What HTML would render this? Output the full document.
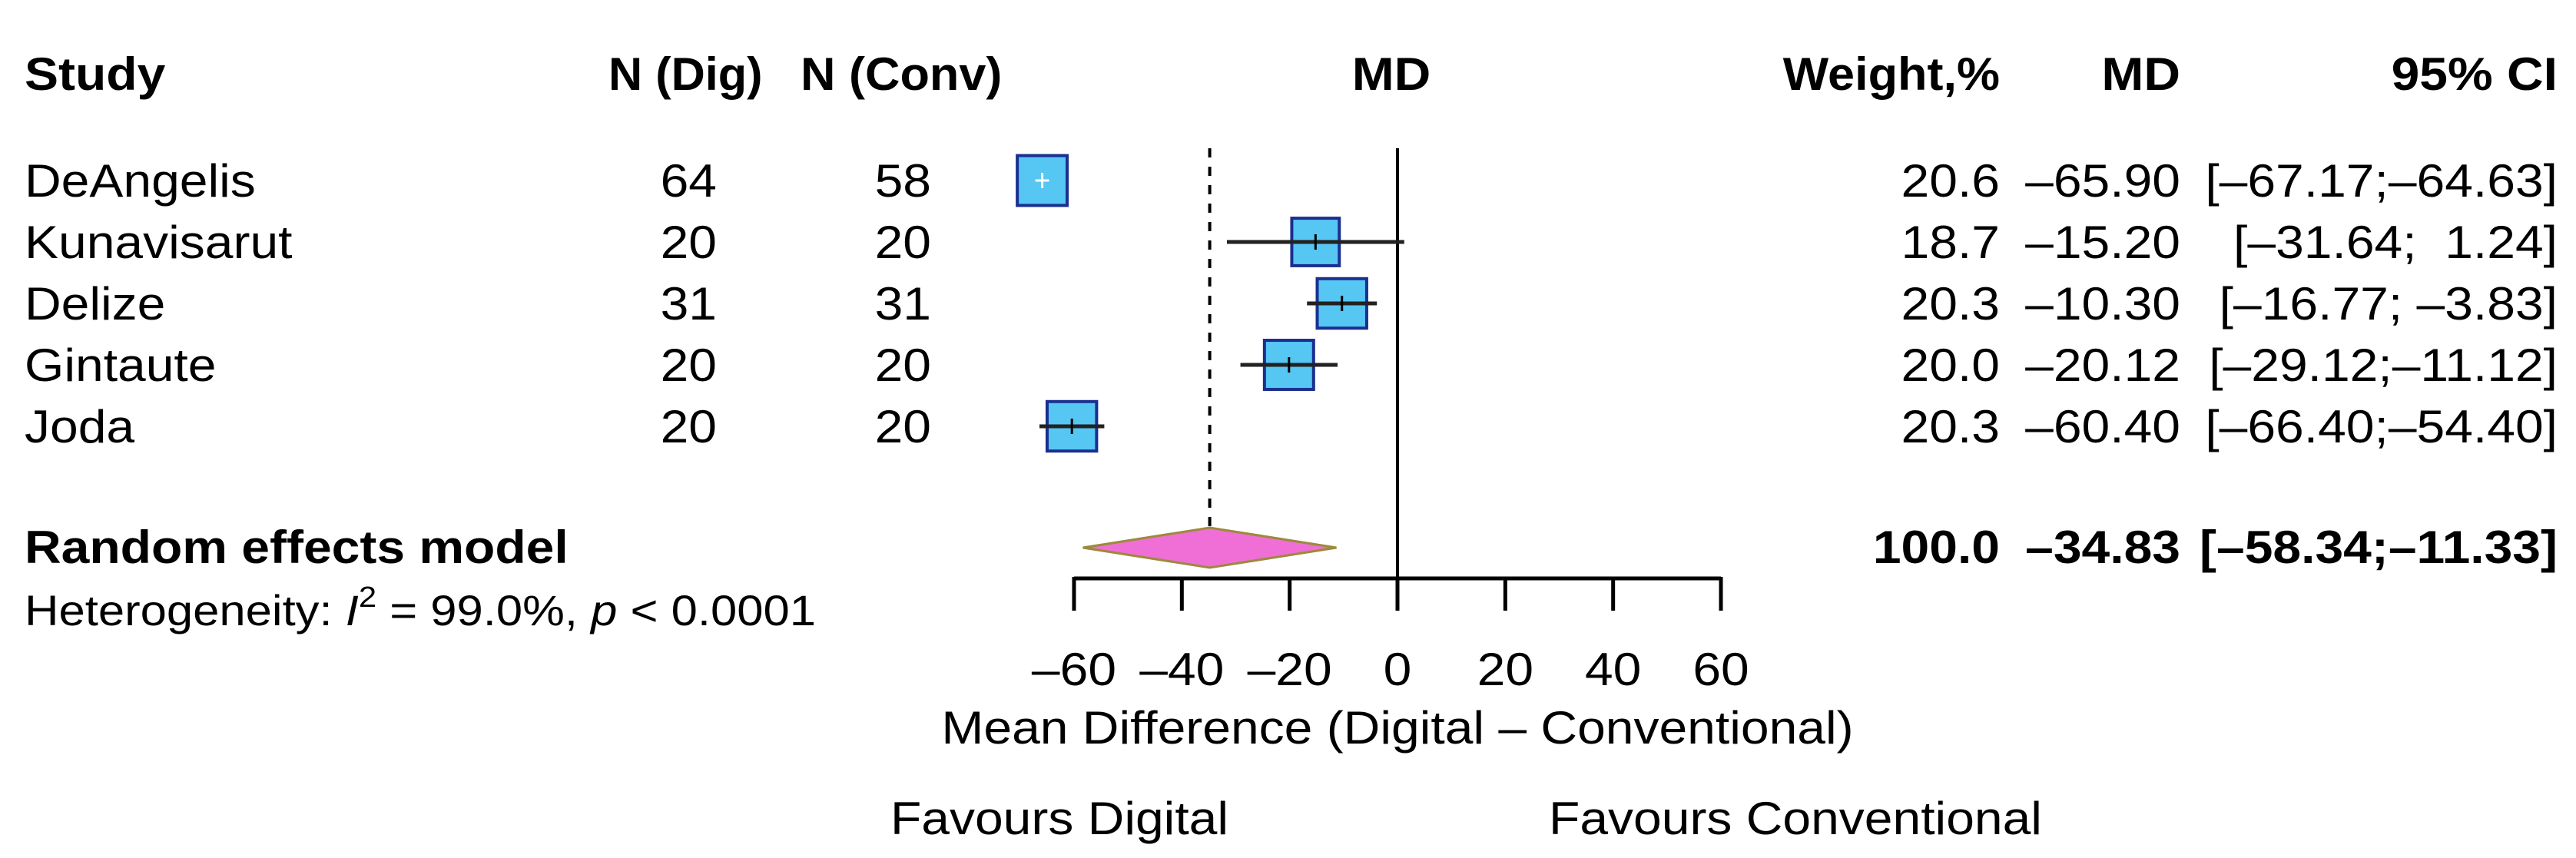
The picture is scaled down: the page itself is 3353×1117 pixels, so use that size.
<!DOCTYPE html>
<html><head><meta charset="utf-8"><style>
html,body{margin:0;padding:0;background:#fff;}
svg{display:block;font-family:"Liberation Sans",Arial,sans-serif;}
text{white-space:pre;}
</style></head><body>
<svg id="chart" width="3353" height="1117" viewBox="0 0 3353 1117" xmlns="http://www.w3.org/2000/svg">
<g id="hdr" font-weight="bold" font-size="60" fill="#000">
<text transform="translate(32,117) scale(1.1,1)">Study</text>
<text transform="translate(792,117) scale(1.02,1)">N (Dig)</text>
<text transform="translate(1042,117) scale(1.05,1)">N (Conv)</text>
<text text-anchor="middle" transform="translate(1811,117) scale(1.1,1)">MD</text>
<text text-anchor="end" transform="translate(2603,117) scale(1.05,1)">Weight,%</text>
<text text-anchor="end" transform="translate(2838,117) scale(1.1,1)">MD</text>
<text text-anchor="end" transform="translate(3329,117) scale(1.1,1)">95% CI</text>
</g>
<g id="rows" font-size="60"></g>
<g id="plot"></g>
</svg>
<script>
const studies = ["DeAngelis","Kunavisarut","Delize","Gintaute","Joda"];
const nDig = [64,20,31,20,20];
const nConv = [58,20,31,20,20];
const md = [-65.90,-15.20,-10.30,-20.12,-60.40];
const lower = [-67.17,-31.64,-16.77,-29.12,-66.40];
const upper = [-64.63,1.24,-3.83,-11.12,-54.40];
const weight = [20.6,18.7,20.3,20.0,20.3];
const pooled = [-34.83,-58.34,-11.33];
const ticks = [-60,-40,-20,0,20,40,60];

const NS="http://www.w3.org/2000/svg";
const X0=1819, SCALE=7.017, SX=1.1;
function xs(v){return X0+v*SCALE;}
function ys(i){return 235+i*80;}
function fmt(v,d){return (v<0?"\u2013":"")+Math.abs(v).toFixed(d);}
function mk(tag,attrs,parent,text){const e=document.createElementNS(NS,tag);for(const k in attrs)e.setAttribute(k,attrs[k]);if(text!==undefined)e.textContent=text;parent.appendChild(e);return e;}
function tx(parent,x,y,anchor,str,extra){const a=Object.assign({'text-anchor':anchor,transform:`translate(${x},${y}) scale(${SX},1)`},extra||{});return mk('text',a,parent,str);}
const rows=document.getElementById('rows'), plot=document.getElementById('plot');
function pad(s,n){while(s.length<n)s=" "+s;return s;}

studies.forEach((s,i)=>{
  const y=ys(i)+21;
  let t=tx(rows,32,y,'start',s);
  
  
  t=tx(rows,933,y,'end',String(nDig[i]));
  
  
  t=tx(rows,1212,y,'end',String(nConv[i]));
  
  
  t=tx(rows,2603,y,'end',weight[i].toFixed(1));
  
  
  t=tx(rows,2838,y,'end',fmt(md[i],2));
  
  
  t=tx(rows,3329,y,'end',"["+pad(fmt(lower[i],2),6)+";"+pad(fmt(upper[i],2),6)+"]");
  
  
});
let t=tx(rows,32,733,'start',"Random effects model",{'font-weight':'bold'});


t=tx(rows,2603,733,'end',"100.0",{'font-weight':'bold'});


t=tx(rows,2838,733,'end',fmt(pooled[0],2),{'font-weight':'bold'});


t=tx(rows,3329,733,'end',"["+fmt(pooled[1],2)+";"+fmt(pooled[2],2)+"]",{'font-weight':'bold'});


const het=tx(rows,32,814,'start',"",{'font-size':'56'});


het.innerHTML='Heterogeneity: <tspan font-style="italic">I</tspan><tspan font-size="38" dy="-24">2</tspan><tspan dy="24"> = 99.0%, </tspan><tspan font-style="italic">p</tspan> &lt; 0.0001';

let l=mk('line',{x1:xs(0),y1:193,x2:xs(0),y2:753,stroke:'#000','stroke-width':4},plot);


l=mk('line',{x1:xs(pooled[0]),y1:193,x2:xs(pooled[0]),y2:690,stroke:'#000','stroke-width':4,'stroke-dasharray':'12 12'},plot);



studies.forEach((s,i)=>{
  const y=ys(i), sz=14.3*Math.sqrt(weight[i]);
  const ci=mk('line',{x1:xs(lower[i]),y1:y,x2:xs(upper[i]),y2:y,stroke:'#333','stroke-width':5},plot);
  
  
  const b=mk('rect',{x:xs(md[i])-sz/2,y:y-sz/2,width:sz,height:sz,fill:'#56c6f3',stroke:'#1a2f8f','stroke-width':4},plot);
  
  
  const inside=(xs(upper[i])-xs(lower[i]))<sz;
  const col=inside?'#fff':'#000';
  const h=mk('line',{x1:xs(lower[i]),y1:y,x2:xs(upper[i]),y2:y,stroke:inside?'#fff':'#222','stroke-width':inside?3:5},plot);
  
  
  const v=mk('line',{x1:xs(md[i]),y1:y-10,x2:xs(md[i]),y2:y+10,stroke:col,'stroke-width':3},plot);
  
  
});

const dy=713;
const d=mk('polygon',{points:`${xs(pooled[1])},${dy} ${xs(pooled[0])},${dy-26} ${xs(pooled[2])},${dy} ${xs(pooled[0])},${dy+26}`,fill:'#ef6fd6',stroke:'#9c8a3a','stroke-width':3},plot);



const ax=mk('line',{x1:xs(ticks[0]),y1:753,x2:xs(ticks[ticks.length-1]),y2:753,stroke:'#000','stroke-width':5},plot);


ticks.forEach(v=>{
  const tk=mk('line',{x1:xs(v),y1:751,x2:xs(v),y2:795,stroke:'#000','stroke-width':5},plot);
  
  
  const tl=tx(plot,xs(v),892,'middle',fmt(v,0),{'font-size':'60'});
  
  
});
t=tx(plot,xs(0),968,'middle',"Mean Difference (Digital \u2013 Conventional)",{'font-size':'60'});


t=tx(plot,1379,1086,'middle',"Favours Digital",{'font-size':'60'});


t=tx(plot,2337,1086,'middle',"Favours Conventional",{'font-size':'60'});


</script>
</body></html>
